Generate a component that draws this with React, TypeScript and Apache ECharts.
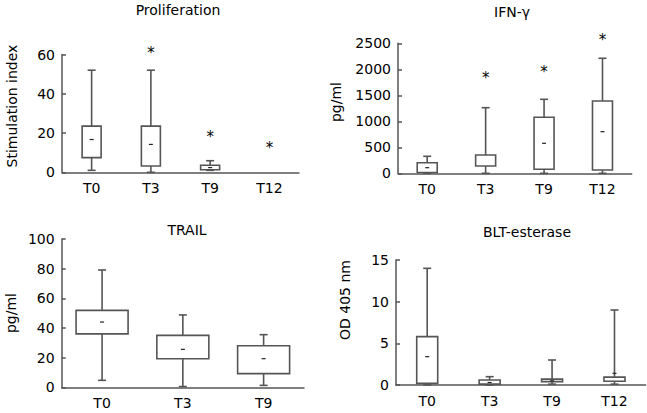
import React, { useEffect, useRef } from "react";
import * as echarts from "echarts";

const FONT = "DejaVu Sans";
const BOX_COLOR = "#555555";
const AXIS_COLOR = "#555555";

const categories4 = ["T0", "T3", "T9", "T12"];
const categories3 = ["T0", "T3", "T9"];

// Proliferation (stimulation index)
const prolifMin = [1, 0, 1, null];
const prolifQ1 = [7.5, 3.2, 1.3, null];
const prolifMean = [16.7, 14.2, 2.4, null];
const prolifQ3 = [23.5, 23.5, 3.6, null];
const prolifMax = [52, 52, 5.9, null];
const prolifStars = [null, 62.4, 19.3, 13.8];

// IFN-gamma (pg/ml)
const ifnMin = [0, 0, 0, 0];
const ifnQ1 = [15, 140, 77, 63];
const ifnMean = [108, null, 577, 800];
const ifnQ3 = [204, 352, 1077, 1390];
const ifnMax = [327, 1262, 1423, 2212];
const ifnStars = [null, 1890, 2006, 2628];

// TRAIL (pg/ml)
const trailMin = [4.7, 0.5, 1.3];
const trailQ1 = [36, 19.3, 9.2];
const trailMean = [44, 25.6, 19.3];
const trailQ3 = [51.9, 35, 28];
const trailMax = [79.1, 48.8, 35.5];

// BLT-esterase (OD 405 nm)
const bltMin = [0, 0, 0.1, 0.1];
const bltQ1 = [0.2, 0.1, 0.4, 0.45];
const bltMean = [3.4, 0.3, 0.5, 1.4];
const bltQ3 = [5.8, 0.6, 0.7, 0.95];
const bltMax = [14, 1.0, 3.0, 9.0];

const yTicks = {
  prolif: { max: 60, interval: 20 },
  ifn: { max: 2500, interval: 500 },
  trail: { max: 100, interval: 20 },
  blt: { max: 15, interval: 5 },
};

function boxData(cats: string[], mn: any[], q1: any[], mean: any[], q3: any[], mx: any[]) {
  const out: any[] = [];
  cats.forEach((_, i) => {
    if (q1[i] == null) return;
    out.push([i, mn[i], q1[i], mean[i] == null ? "-" : mean[i], q3[i], mx[i]]);
  });
  return out;
}

function starData(cats: string[], stars: any[]) {
  const out: any[] = [];
  cats.forEach((_, i) => {
    if (stars[i] == null) return;
    out.push([i, stars[i]]);
  });
  return out;
}

const makeBoxRender = (bw: number) => (params: any, api: any) => {
  const i = api.value(0);
  const lo = api.value(1);
  const q1 = api.value(2);
  const mean = api.value(3);
  const q3 = api.value(4);
  const hi = api.value(5);
  const cx = api.coord([i, q1])[0];
  const y = (v: number) => api.coord([i, v])[1];
  const st = { stroke: BOX_COLOR, lineWidth: 1.6 };
  const cap = 4;
  const children: any[] = [
    { type: "line", shape: { x1: cx, y1: y(hi), x2: cx, y2: y(lo) }, style: st },
    { type: "line", shape: { x1: cx - cap, y1: y(hi), x2: cx + cap, y2: y(hi) }, style: st },
    { type: "line", shape: { x1: cx - cap, y1: y(lo), x2: cx + cap, y2: y(lo) }, style: st },
    {
      type: "rect",
      shape: { x: cx - bw / 2, y: y(q3), width: bw, height: y(q1) - y(q3) },
      style: { fill: "#ffffff", stroke: BOX_COLOR, lineWidth: 1.6 },
    },
  ];
  if (!isNaN(mean)) {
    children.push({
      type: "line",
      shape: { x1: cx - 2, y1: y(mean), x2: cx + 2, y2: y(mean) },
      style: { stroke: "#222222", lineWidth: 1.2 },
    });
  }
  return { type: "group", children };
};

const starRender = (params: any, api: any) => {
  const p = api.coord([api.value(0), api.value(1)]);
  return {
    type: "text",
    x: p[0],
    y: p[1] + 3,
    style: {
      text: "*",
      fontSize: 15,
      fontFamily: FONT,
      fill: "#000000",
      align: "center",
      verticalAlign: "middle",
    },
  };
};

const xAxisFor = (gridIndex: number, data: string[]) => ({
  type: "category",
  gridIndex,
  data,
  axisLine: { lineStyle: { color: AXIS_COLOR, width: 1.5 } },
  axisTick: { inside: true, length: 5, lineStyle: { color: AXIS_COLOR, width: 1.5 } },
  axisLabel: { color: "#000000", fontSize: 14, fontFamily: FONT, margin: 9 },
});

const yAxisFor = (gridIndex: number, max: number, interval: number) => ({
  type: "value",
  gridIndex,
  min: 0,
  max,
  interval,
  splitLine: { show: false },
  axisLine: { show: true, lineStyle: { color: AXIS_COLOR, width: 1.5 } },
  axisTick: { show: true, inside: true, length: 4, lineStyle: { color: AXIS_COLOR, width: 1.5 } },
  axisLabel: {
    color: "#000000",
    fontSize: 14,
    fontFamily: FONT,
    margin: 7,
    formatter: (v: number) => String(v),
  },
});

const label = (text: string, x: number, y: number, rotate = false) => ({
  type: "text",
  x,
  y,
  rotation: rotate ? Math.PI / 2 : 0,
  style: {
    text,
    fontSize: 14,
    fontFamily: FONT,
    fill: "#000000",
    align: "center",
    verticalAlign: "middle",
  },
});

export default function App() {
  const ref = useRef<HTMLDivElement>(null);
  useEffect(() => {
    if (!ref.current) return;
    const chart = echarts.init(ref.current, null, { renderer: "svg" });
    const starItem = { color: "#000000" };
    const option: any = {
      animation: false,
      backgroundColor: "#ffffff",
      grid: [
        { left: 62, top: 54.5, width: 237, height: 117.8 },
        { left: 398, top: 43.3, width: 233.7, height: 130 },
        { left: 61.7, top: 239, width: 242.3, height: 148.3 },
        { left: 396, top: 260, width: 249.7, height: 125 },
      ],
      xAxis: [
        xAxisFor(0, categories4),
        xAxisFor(1, categories4),
        xAxisFor(2, categories3),
        xAxisFor(3, categories4),
      ],
      yAxis: [
        yAxisFor(0, yTicks.prolif.max, yTicks.prolif.interval),
        yAxisFor(1, yTicks.ifn.max, yTicks.ifn.interval),
        yAxisFor(2, yTicks.trail.max, yTicks.trail.interval),
        yAxisFor(3, yTicks.blt.max, yTicks.blt.interval),
      ],
      series: [
        {
          type: "custom", name: "Proliferation", xAxisIndex: 0, yAxisIndex: 0, clip: false,
          itemStyle: { color: BOX_COLOR },
          renderItem: makeBoxRender(19),
          data: boxData(categories4, prolifMin, prolifQ1, prolifMean, prolifQ3, prolifMax),
        },
        {
          type: "custom", name: "Proliferation outliers", xAxisIndex: 0, yAxisIndex: 0, clip: false,
          itemStyle: starItem,
          renderItem: starRender,
          data: starData(categories4, prolifStars),
        },
        {
          type: "custom", name: "IFN-γ", xAxisIndex: 1, yAxisIndex: 1, clip: false,
          itemStyle: { color: BOX_COLOR },
          renderItem: makeBoxRender(20),
          data: boxData(categories4, ifnMin, ifnQ1, ifnMean, ifnQ3, ifnMax),
        },
        {
          type: "custom", name: "IFN-γ outliers", xAxisIndex: 1, yAxisIndex: 1, clip: false,
          itemStyle: starItem,
          renderItem: starRender,
          data: starData(categories4, ifnStars),
        },
        {
          type: "custom", name: "TRAIL", xAxisIndex: 2, yAxisIndex: 2, clip: false,
          itemStyle: { color: BOX_COLOR },
          renderItem: makeBoxRender(52),
          data: boxData(categories3, trailMin, trailQ1, trailMean, trailQ3, trailMax),
        },
        {
          type: "custom", name: "BLT-esterase", xAxisIndex: 3, yAxisIndex: 3, clip: false,
          itemStyle: { color: BOX_COLOR },
          renderItem: makeBoxRender(21),
          data: boxData(categories4, bltMin, bltQ1, bltMean, bltQ3, bltMax),
        },
      ],
      graphic: [
        label("Proliferation", 178, 10),
        label("IFN-γ", 512, 12),
        label("TRAIL", 187, 230),
        label("BLT-esterase", 527, 232),
        label("Stimulation index", 12, 106, true),
        label("pg/ml", 336, 102, true),
        label("pg/ml", 11, 313, true),
        label("OD 405 nm", 345, 300, true),
      ],
    };
    chart.setOption(option);
    return () => chart.dispose();
  }, []);
  return (
    <div
      ref={ref}
      style={{ position: "fixed", left: 0, top: 0, width: 647, height: 413, background: "#fff" }}
    />
  );
}
